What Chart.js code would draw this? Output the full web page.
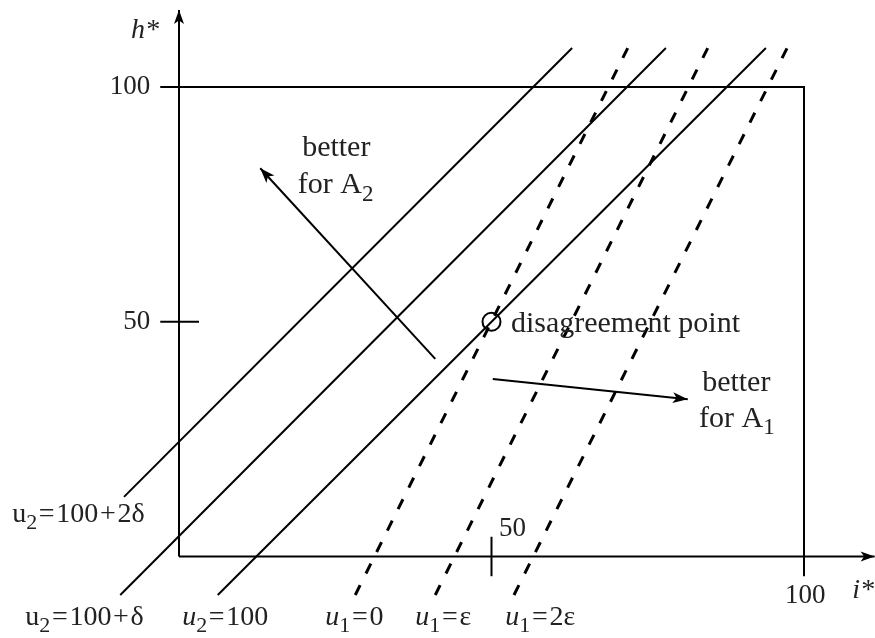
<!DOCTYPE html>
<html>
<head>
<meta charset="utf-8">
<script src="https://cdn.jsdelivr.net/npm/chart.js@4"></script>
<style>
  html, body { margin: 0; padding: 0; background: #fff; }
</style>
</head>
<body>
<canvas id="chart" width="875" height="638"></canvas>
<script>
// DATA (in i*/h* units)

const xTicks = [50, 100];
const yTicks = [50, 100];

// iso-utility lines of A2 (solid)
const u2Plus2Delta = [{ x: -8.8, y: 12.7 }, { x: 62.9, y: 108.3 }];
const u2PlusDelta = [{ x: -9.4, y: -8.2 }, { x: 77.9, y: 108.3 }];
const u2Base = [{ x: 6.2, y: -8.2 }, { x: 93.9, y: 108.3 }];

// iso-utility lines of A1 (dashed)
const u1Zero = [{ x: 28.2, y: -8.2 }, { x: 71.8, y: 108.3 }];
const u1Eps = [{ x: 41.0, y: -8.2 }, { x: 84.6, y: 108.3 }];
const u1TwoEps = [{ x: 53.6, y: -8.2 }, { x: 97.3, y: 108.3 }];

const disagreement = [{ x: 50, y: 50 }];

// direction arrows
const arrowA2 = [{ x: 41.0, y: 42.1 }, { x: 13.0, y: 82.7 }];
const arrowA1 = [{ x: 50.2, y: 37.8 }, { x: 81.4, y: 33.5 }];

// axes and box
const xAxisLine = [{ x: 0, y: 0 }, { x: 111.3, y: 0 }];
const yAxisLine = [{ x: 0, y: 0 }, { x: 0, y: 116.4 }];
const boxLine = [{ x: 0, y: 100 }, { x: 100, y: 100 }, { x: 100, y: 0 }];

// text: "~" toggles italic, "_" makes the next char a subscript
const labels = [
  { x: -3.2, y: 110.4, text: "~h*~", align: "right" },
  { x: 107.7, y: -8.8, text: "~i*~", align: "left" },
  { x: 19.7, y: 85.3, text: "better", align: "left", big: true },
  { x: 19.0, y: 77.4, text: "for A_2", align: "left", big: true },
  { x: 53.1, y: 47.8, text: "disagreement point", align: "left", big: true },
  { x: 83.7, y: 35.2, text: "better", align: "left", big: true },
  { x: 83.2, y: 27.6, text: "for A_1", align: "left", big: true },
  { x: -26.7, y: 7.3, text: "u_2=100+2δ", align: "left" },
  { x: -24.6, y: -14.6, text: "u_2=100+δ", align: "left" },
  { x: 0.5, y: -14.6, text: "~u~_2=100", align: "left" },
  { x: 23.4, y: -14.6, text: "~u~_1=0", align: "left" },
  { x: 37.8, y: -14.6, text: "~u~_1=ε", align: "left" },
  { x: 52.2, y: -14.6, text: "~u~_1=2ε", align: "left" }
];

// short tick marks built from the tick values
const xTickSegs = xTicks.map(v => [{ x: v, y: -4.2 }, { x: v, y: 4.2 }]);
const yTickSegs = yTicks.map(v => [{ x: -3.0, y: v }, { x: 3.2, y: v }]);

function seg(data, extra) {
  return Object.assign({
    data: data,
    showLine: true,
    borderColor: "#000",
    borderWidth: 2,
    pointRadius: 0,
    fill: false,
    tension: 0
  }, extra || {});
}

const dashed = { borderWidth: 3, borderDash: [11, 13] };

const datasets = [
  seg(xAxisLine, { arrowHead: 14 }),
  seg(yAxisLine, { arrowHead: 14 }),
  seg(boxLine),
  ...xTickSegs.map(d => seg(d)),
  ...yTickSegs.map(d => seg(d)),
  seg(u2Plus2Delta),
  seg(u2PlusDelta),
  seg(u2Base),
  seg(u1Zero, dashed),
  seg(u1Eps, dashed),
  seg(u1TwoEps, dashed),
  seg(arrowA2, { arrowHead: 15 }),
  seg(arrowA1, { arrowHead: 15 }),
  {
    data: disagreement,
    showLine: false,
    pointRadius: 9,
    pointBorderWidth: 2,
    pointBorderColor: "#000",
    pointBackgroundColor: "rgba(0,0,0,0)"
  }
];

// draws a label with italic parts and subscripts, with a bit of air round "=" and "+"
function drawRich(ctx, str, px, py, size, align) {
  const parts = [];
  let italic = false;
  for (let i = 0; i < str.length; i++) {
    const c = str[i];
    if (c === "~") { italic = !italic; continue; }
    if (c === "_") { parts.push({ t: str[i + 1], italic: italic, sub: true }); i++; continue; }
    parts.push({ t: c, italic: italic, sub: false });
  }
  const fontOf = p => (p.italic ? "italic " : "") + Math.round(p.sub ? size * 0.78 : size) + "px 'Liberation Serif', serif";
  let total = 0;
  parts.forEach(p => {
    ctx.font = fontOf(p);
    p.pad = (p.t === "=" || p.t === "+") ? size * 0.06 : 0;
    p.w = ctx.measureText(p.t).width + 2 * p.pad;
    total += p.w;
  });
  let x = align === "right" ? px - total : align === "center" ? px - total / 2 : px;
  parts.forEach(p => {
    ctx.font = fontOf(p);
    ctx.fillText(p.t, x + p.pad, p.sub ? py + size * 0.25 : py);
    x += p.w;
  });
}

const overlay = {
  id: "overlay",
  afterDatasetsDraw(chart) {
    const ctx = chart.ctx;
    const xs = chart.scales.x, ys = chart.scales.y;
    ctx.save();

    // arrow heads
    chart.data.datasets.forEach((ds, i) => {
      if (!ds.arrowHead) return;
      const pts = chart.getDatasetMeta(i).data;
      const a = pts[pts.length - 2], b = pts[pts.length - 1];
      const ang = Math.atan2(b.y - a.y, b.x - a.x);
      const L = ds.arrowHead, W = L * 0.36;
      ctx.fillStyle = "#000";
      ctx.beginPath();
      ctx.moveTo(b.x, b.y);
      ctx.lineTo(b.x - L * Math.cos(ang) + W * Math.sin(ang), b.y - L * Math.sin(ang) - W * Math.cos(ang));
      ctx.lineTo(b.x - L * 0.75 * Math.cos(ang), b.y - L * 0.75 * Math.sin(ang));
      ctx.lineTo(b.x - L * Math.cos(ang) - W * Math.sin(ang), b.y - L * Math.sin(ang) + W * Math.cos(ang));
      ctx.closePath();
      ctx.fill();
    });

    // tick labels
    ctx.fillStyle = "#222";
    ctx.textBaseline = "middle";
    yTicks.forEach(v => drawRich(ctx, String(v), xs.getPixelForValue(-4.6), ys.getPixelForValue(v), 27, "right"));
    ctx.textBaseline = "alphabetic";
    drawRich(ctx, String(xTicks[0]), xs.getPixelForValue(xTicks[0] + 1.2), ys.getPixelForValue(4.4), 27, "left");
    drawRich(ctx, String(xTicks[1]), xs.getPixelForValue(xTicks[1] + 0.2), ys.getPixelForValue(-9.9), 27, "center");

    // other text
    labels.forEach(l => {
      drawRich(ctx, l.text, xs.getPixelForValue(l.x), ys.getPixelForValue(l.y), l.big ? 30 : 28, l.align);
    });
    ctx.restore();
  }
};

const ctx = document.getElementById("chart").getContext("2d");
new Chart(ctx, {
  type: "scatter",
  data: { datasets: datasets },
  options: {
    responsive: false,
    animation: false,
    layout: { padding: 0, autoPadding: false },
    plugins: { legend: { display: false }, tooltip: { enabled: false } },
    scales: {
      x: { type: "linear", display: false, min: -28.64, max: 111.36 },
      y: { type: "linear", display: false, min: -17.36, max: 118.53 }
    }
  },
  plugins: [overlay]
});
</script>
</body>
</html>
